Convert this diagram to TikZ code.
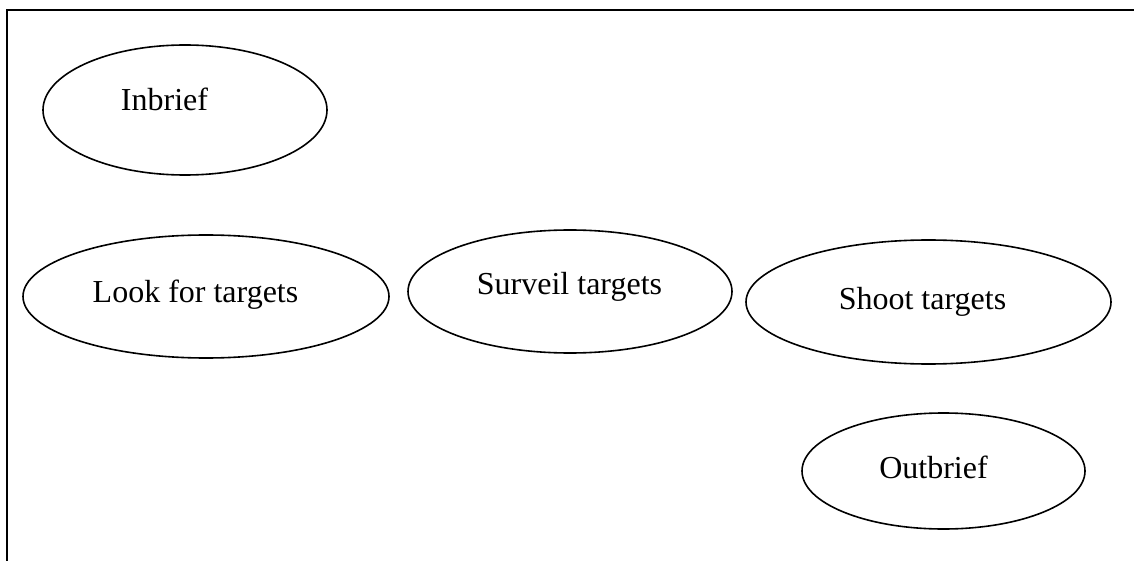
\documentclass[tikz,border=0pt]{standalone}
\usepackage{fontspec}
\setmainfont{Liberation Serif}
\usetikzlibrary{shapes.geometric}

\begin{document}
\begin{tikzpicture}[
		x=0.5pt, y=-0.5pt,
		stage/.style={ellipse,draw,line width=0.8pt,inner sep=0pt},
		caption/.style={anchor=base,inner sep=0pt,font=\fontsize{16}{19}\selectfont}
		]
		\useasboundingbox (0,0) rectangle (1134,561);
		% frame
		\draw[line width=1.2pt] (7,561) -- (7,10) -- (1134,10);
		% stages
		\node[stage,minimum width=142pt,minimum height=65pt] (inbrief) at (185,110) {};
		\node[stage,minimum width=183pt,minimum height=61.5pt] (look) at (206,296.5) {};
		\node[stage,minimum width=162pt,minimum height=61.5pt] (surveil) at (570,291.5) {};
		\node[stage,minimum width=182.5pt,minimum height=62pt] (shoot) at (928.5,302) {};
		\node[stage,minimum width=141.5pt,minimum height=58pt] (outbrief) at (943.5,471) {};
		% texts
		\node[caption] at ([shift={(-20.5,1)}]inbrief.center) {Inbrief};
		\node[caption] at ([shift={(-10.5,5.5)}]look.center) {Look for targets};
		\node[caption] at ([shift={(-0.5,2.5)}]surveil.center) {Surveil targets};
		\node[caption] at ([shift={(-6,7)}]shoot.center) {Shoot targets};
		\node[caption] at ([shift={(-10,7)}]outbrief.center) {Outbrief};
	\end{tikzpicture}
\end{document}
